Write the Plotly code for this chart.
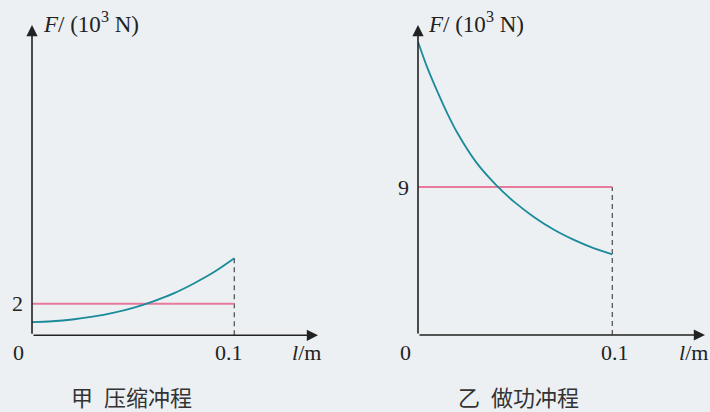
import plotly.graph_objects as go

# ---------------- data ----------------
l_comp = [0.0, 0.01, 0.02, 0.03, 0.04, 0.05, 0.06, 0.07, 0.08, 0.09, 0.1]
F_comp = [0.84, 0.89, 1.0, 1.18, 1.42, 1.74, 2.15, 2.65, 3.28, 4.0, 4.87]
F_comp_avg = 2

l_work = [0.0, 0.005, 0.01, 0.015, 0.02, 0.03, 0.04, 0.05, 0.06, 0.07, 0.08, 0.09, 0.1]
F_work = [17.84, 16.2, 14.8, 13.5, 12.35, 10.5, 9.15, 8.05, 7.15, 6.4, 5.8, 5.3, 4.9]
F_work_avg = 9

l_end = 0.1
y_title = "<i>F</i>/ (10<sup>3</sup> N)"
x_title = "<i>l</i>/m"
captions = ["甲\u2002压缩冲程", "乙\u2002做功冲程"]
x_tick = "0.1"
zero_tick = "0"

# ---------------- style ----------------
W, H = 710, 412
BG = "#ECF0F3"
TEAL = "#1B8A9A"
PINK = "#E8799A"
AXC = "#222222"
SERIF = "Liberation Serif"
FS = 22


def px(x):
    return x / W


def py(y):
    return 1 - y / H


# panel geometry (pixels)
panels = [
    dict(x0=32, xppu=2023, y0=335.3, yppu=15.8, xr=325, ytop=15, xtip=318, ytip=25),
    dict(x0=418, xppu=1943, y0=335, yppu=16.44, xr=709, ytop=15, xtip=705, ytip=25),
]

fig = go.Figure()
layout = dict(
    width=W, height=H, margin=dict(l=0, r=0, t=0, b=0),
    paper_bgcolor=BG, plot_bgcolor="rgba(0,0,0,0)", showlegend=False,
)
annotations = []

series = [
    (l_comp, F_comp, F_comp_avg, F_comp[-1]),
    (l_work, F_work, F_work_avg, F_work_avg),
]

for i, (p, (lx, fy, avg, dash_top)) in enumerate(zip(panels, series)):
    xa = "xaxis" if i == 0 else "xaxis2"
    ya = "yaxis" if i == 0 else "yaxis2"
    xr = "x" if i == 0 else "x2"
    yr = "y" if i == 0 else "y2"
    xmax = (p["xr"] - p["x0"]) / p["xppu"]
    ymax = (p["y0"] - p["ytop"]) / p["yppu"]
    layout[xa] = dict(domain=[px(p["x0"]), px(p["xr"])], range=[0, xmax],
                      visible=False, fixedrange=True)
    layout[ya] = dict(domain=[py(p["y0"]), py(p["ytop"])], range=[0, ymax],
                      visible=False, fixedrange=True)
    if i == 1:
        layout[xa]["anchor"] = "y2"
        layout[ya]["anchor"] = "x2"

    # dashed vertical
    fig.add_trace(go.Scatter(x=[l_end, l_end], y=[0, dash_top], mode="lines",
                             line=dict(color="#555555", width=1.3, dash="5px,4px"),
                             xaxis=xr, yaxis=yr, hoverinfo="skip"))
    # average force line
    fig.add_trace(go.Scatter(x=[0, l_end], y=[avg, avg], mode="lines",
                             line=dict(color=PINK, width=2),
                             xaxis=xr, yaxis=yr, hoverinfo="skip"))
    # curve
    fig.add_trace(go.Scatter(x=lx, y=fy, mode="lines", line_shape="spline",
                             line=dict(color=TEAL, width=1.8),
                             xaxis=xr, yaxis=yr, hoverinfo="skip"))

    xtip = (p["xtip"] - p["x0"]) / p["xppu"]
    ytip = (p["y0"] - p["ytip"]) / p["yppu"]
    # axes with arrows
    for (tx, ty) in [(xtip, 0), (0, ytip)]:
        annotations.append(dict(
            x=tx, y=ty, ax=0, ay=0, xref=xr, yref=yr, axref=xr, ayref=yr,
            showarrow=True, arrowhead=2, arrowsize=1.4, arrowwidth=1.6,
            arrowcolor=AXC, text="", standoff=0, startstandoff=0))

tf = dict(family=SERIF, size=FS, color="#222222")
tt = dict(family=SERIF, size=23, color="#222222")
texts = [
    # left panel
    (zero_tick, 18.5, 352, "center", tf),
    (x_tick, 228.5, 352, "center", tf),
    (x_title, 306, 352, "center", tf),
    (str(F_comp_avg), 25, 303, "right", tf),
    (y_title, 41, 23, "left", tt),
    # right panel
    (zero_tick, 405, 352, "center", tf),
    (x_tick, 614.5, 352, "center", tf),
    (x_title, 693, 352, "center", tf),
    (str(F_work_avg), 411, 187, "right", tf),
    (y_title, 426, 23, "left", tt),
]
for t, x, y, anc, f in texts:
    annotations.append(dict(text=t, x=px(x), y=py(y), xref="paper", yref="paper",
                            xanchor=anc, yanchor="middle", showarrow=False, font=f))

for t, x in zip(captions, [131, 518]):
    annotations.append(dict(text=t, x=px(x), y=py(396), xref="paper", yref="paper",
                            xanchor="center", yanchor="middle", showarrow=False,
                            font=dict(family="Noto Sans CJK SC", size=22, color="#333333")))

layout["annotations"] = annotations
fig.update_layout(**layout)
fig.write_html(
    "out.html",
    config={"displayModeBar": False, "staticPlot": True},
    post_script="document.body.style.margin='0';document.body.style.padding='0';"
                "document.body.style.overflow='hidden';",
)
